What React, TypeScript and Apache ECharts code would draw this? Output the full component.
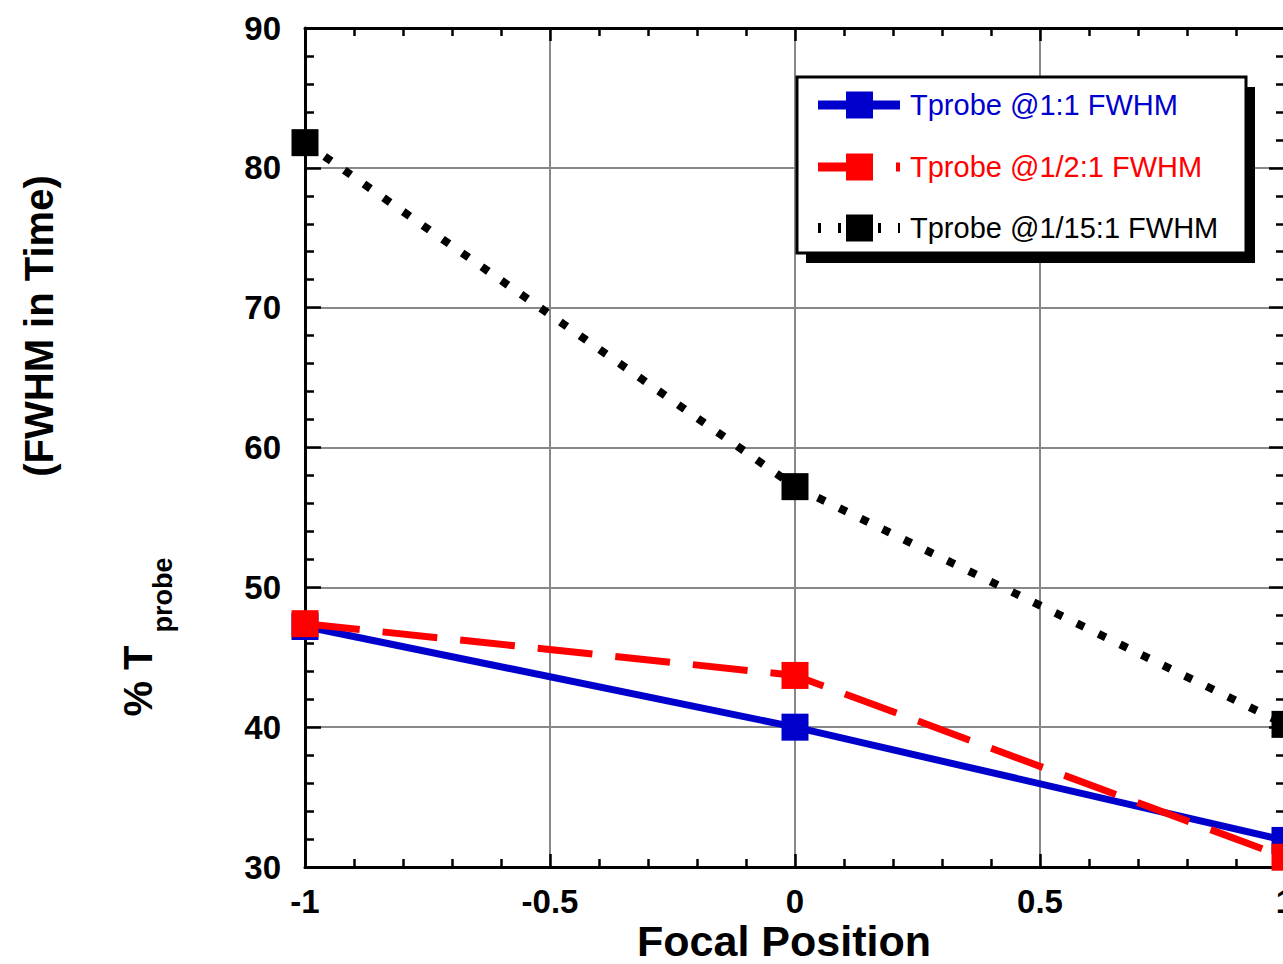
import React, { useEffect, useRef } from "react";
import * as echarts from "echarts";

// ---- data ----
const seriesNames = ["Tprobe @1:1 FWHM", "Tprobe @1/2:1 FWHM", "Tprobe @1/15:1 FWHM"];
const seriesColors = ["#0000cc", "#ff0000", "#000000"];
const xValues = [-1, 0, 1];
const blueValues = [47.2, 40.0, 31.9];
const redValues = [47.4, 43.7, 30.7];
const blackValues = [81.8, 57.2, 40.2];
const xTickValues = [-1, -0.5, 0, 0.5, 1];
const yTickValues = [30, 40, 50, 60, 70, 80, 90];
const xTitle = "Focal Position";
const yTitleTop = "(FWHM in Time)";
const yTitleMain = "% T";
const yTitleSub = "probe";

const FONT = "'Liberation Sans', Arial, Helvetica, sans-serif";

export default function App() {
  const ref = useRef<HTMLDivElement>(null);

  useEffect(() => {
    if (!ref.current) return;
    const chart = echarts.init(ref.current, undefined, { renderer: "svg" });

    const xMin = xTickValues[0];
    const xMax = xTickValues[xTickValues.length - 1];
    const yMin = yTickValues[0];
    const yMax = yTickValues[yTickValues.length - 1];

    const baseX = (pos: "bottom" | "top", labels: boolean) => ({
      type: "value",
      position: pos,
      min: xMin,
      max: xMax,
      interval: 0.5,
      axisLine: { show: true, onZero: false, lineStyle: { color: "#000", width: 3 } },
      axisTick: { show: true, inside: true, length: 13, lineStyle: { color: "#000", width: 2.5 } },
      minorTick: { show: true, splitNumber: 5, length: 8, lineStyle: { color: "#000", width: 2.5 } },
      splitLine: {
        show: labels,
        showMinLine: false,
        showMaxLine: false,
        lineStyle: { color: "#888", width: 2 },
      },
      minorSplitLine: { show: false },
      axisLabel: {
        show: labels,
        margin: 18,
        fontSize: 33,
        fontWeight: "bold",
        fontFamily: FONT,
        color: "#000",
      },
    });

    const baseY = (pos: "left" | "right", labels: boolean) => ({
      type: "value",
      position: pos,
      min: yMin,
      max: yMax,
      interval: 10,
      axisLine: { show: true, onZero: false, lineStyle: { color: "#000", width: 3 } },
      axisTick: { show: true, inside: true, length: 16, lineStyle: { color: "#000", width: 2.5 } },
      minorTick: { show: true, splitNumber: 5, length: 9, lineStyle: { color: "#000", width: 2.5 } },
      splitLine: {
        show: labels,
        showMinLine: false,
        showMaxLine: false,
        lineStyle: { color: "#888", width: 2 },
      },
      minorSplitLine: { show: false },
      axisLabel: {
        show: labels,
        margin: 24,
        fontSize: 33,
        fontWeight: "bold",
        fontFamily: FONT,
        color: "#000",
      },
    });

    const valueSets = [blueValues, redValues, blackValues];
    const lineTypes: any[] = ["solid", [55, 23], [8, 16]];
    const lineWidths = [7, 7, 8];

    const series = seriesNames.map((name, i) => ({
      type: "line",
      name,
      data: xValues.map((x, j) => [x, valueSets[i][j]]),
      symbol: "rect",
      symbolSize: 27,
      showAllSymbol: true,
      clip: false,
      lineStyle: { color: seriesColors[i], width: lineWidths[i], type: lineTypes[i], cap: "butt" },
      itemStyle: { color: seriesColors[i] },
      emphasis: { disabled: true },
      z: 3 + i,
    }));

    // legend drawn with graphic elements
    const legX = 797;
    const legY = 77;
    const legW = 449;
    const legH = 176;
    const rowY = [105, 167, 228];
    const legendLineDash: any[] = [null, [55, 23], [3, 17]];
    const legendLineWidth = [9, 9, 10];
    const legendElems: any[] = [
      {
        type: "rect",
        shape: { x: legX + 9, y: legY + 10, width: legW, height: legH },
        style: { fill: "#000" },
        z: 100,
      },
      {
        type: "rect",
        shape: { x: legX, y: legY, width: legW, height: legH },
        style: { fill: "#fff", stroke: "#000", lineWidth: 3 },
        z: 101,
      },
    ];
    seriesNames.forEach((name, i) => {
      legendElems.push({
        type: "line",
        shape: { x1: 818, y1: rowY[i], x2: 900, y2: rowY[i] },
        style: {
          stroke: seriesColors[i],
          lineWidth: legendLineWidth[i],
          lineDash: legendLineDash[i] || undefined,
        },
        z: 102,
      });
      legendElems.push({
        type: "rect",
        shape: { x: 846, y: rowY[i] - 13.5, width: 27, height: 27 },
        style: { fill: seriesColors[i] },
        z: 103,
      });
      legendElems.push({
        type: "text",
        x: 910,
        y: rowY[i],
        style: {
          text: name,
          fill: seriesColors[i],
          fontSize: 29,
          fontFamily: FONT,
          align: "left",
          verticalAlign: "middle",
        },
        z: 103,
      });
    });

    const titleElems: any[] = [
      {
        type: "text",
        x: 784,
        y: 941,
        style: {
          text: xTitle,
          fill: "#000",
          fontSize: 43,
          fontWeight: "bold",
          fontFamily: FONT,
          align: "center",
          verticalAlign: "middle",
        },
      },
      {
        type: "text",
        x: 39,
        y: 326,
        rotation: Math.PI / 2,
        style: {
          text: yTitleTop,
          fill: "#000",
          fontSize: 40,
          fontWeight: "bold",
          fontFamily: FONT,
          align: "center",
          verticalAlign: "middle",
        },
      },
      {
        type: "text",
        x: 138,
        y: 681,
        rotation: Math.PI / 2,
        style: {
          text: yTitleMain,
          fill: "#000",
          fontSize: 40,
          fontWeight: "bold",
          fontFamily: FONT,
          align: "center",
          verticalAlign: "middle",
        },
      },
      {
        type: "text",
        x: 163,
        y: 595,
        rotation: Math.PI / 2,
        style: {
          text: yTitleSub,
          fill: "#000",
          fontSize: 27,
          fontWeight: "bold",
          fontFamily: FONT,
          align: "center",
          verticalAlign: "middle",
        },
      },
    ];

    chart.setOption({
      animation: false,
      backgroundColor: "#fff",
      grid: {
        left: 305,
        top: 28,
        width: 980,
        height: 839,
        containLabel: false,
        outerBoundsMode: "none",
      },
      xAxis: [baseX("bottom", true), baseX("top", false)],
      yAxis: [baseY("left", true), baseY("right", false)],
      series,
      graphic: [...titleElems, ...legendElems],
    } as any);

    return () => {
      chart.dispose();
    };
  }, []);

  return (
    <div
      ref={ref}
      style={{ position: "absolute", left: 0, top: 0, width: 1283, height: 964, background: "#fff" }}
    />
  );
}
